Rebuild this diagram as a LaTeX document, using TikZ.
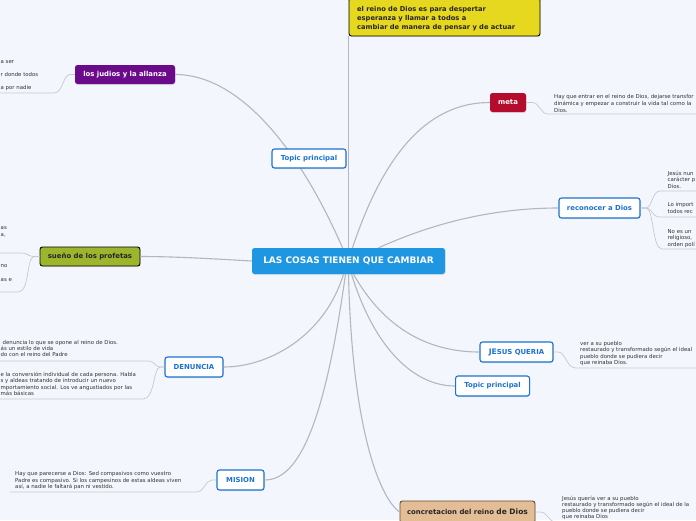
\documentclass[tikz,border=0pt]{standalone}
\usepackage{fontspec}
\setmainfont{DejaVu Sans}
\usetikzlibrary{shadows}
\definecolor{bg}{HTML}{F3F6FC}
\definecolor{cblue}{HTML}{1E96E2}
\definecolor{tblue}{HTML}{1C72D2}
\definecolor{lgray}{HTML}{B3B7BF}
\definecolor{sgray}{HTML}{C6C9D0}
\definecolor{txt}{HTML}{333333}
\definecolor{purp}{HTML}{6C0A8C}
\definecolor{crim}{HTML}{B50B2C}
\definecolor{olive}{HTML}{9CB52C}
\definecolor{yel}{HTML}{E6D81F}
\definecolor{tan}{HTML}{E3BD96}
\definecolor{brn}{HTML}{6B4A2E}
\newcommand\smalltxt{\fontsize{5.4}{6.6}\selectfont}
\newcommand\topicfont{\fontsize{6.9}{8}\selectfont\bfseries}
\tikzset{
  topic/.style={rounded corners=2.5pt, minimum height=19pt, inner sep=0pt, font=\topicfont,
    drop shadow={opacity=0.18, shadow xshift=0.6pt, shadow yshift=-1pt}},
  bluebox/.style={topic, draw=tblue, line width=1.1pt, fill=white, text=tblue},
  conn/.style={draw=lgray, line width=1.1pt},
  sub/.style={draw=sgray, line width=0.7pt},
  lbl/.style={font=\smalltxt, inner sep=0pt, text=txt, anchor=base west}
}
\begin{document}
\begin{tikzpicture}[x=1pt,y=-1pt]
\useasboundingbox (0,0) rectangle (696,520);
\fill[bg] (0,0) rectangle (696,520);
\clip (0,0) rectangle (696,520);

% ---- nodes ----
\node[topic, fill=cblue, text=white, minimum width=193pt, minimum height=26pt,
  font=\fontsize{9}{10}\selectfont\bfseries] (c) at (348.5,261) {LAS COSAS TIENEN QUE CAMBIAR};
\node[topic, fill=yel, draw=black, line width=0.9pt, minimum width=191pt, minimum height=38pt] (ye) at (444.5,17) {};
\node[inner sep=0pt, anchor=west, align=left, text=black!85,
  font=\fontsize{6.7}{9}\selectfont\bfseries] (yt) at (357,18.5)
  {el reino de Dios es para despertar\\esperanza y llamar a todos a\\cambiar de manera de pensar y de actuar};
\node[topic, fill=purp, text=white, minimum width=100pt] (jud) at (125,74.5) {los judios y la allanza};
\node[topic, fill=crim, text=white, minimum width=36pt] (meta) at (508,102.5) {meta};
\node[bluebox, minimum width=81pt, minimum height=20pt] (rec) at (599.5,208) {reconocer a Dios};
\node[topic, fill=olive, draw=black, line width=0.9pt, text=black!85, minimum width=100pt] (sue) at (90,256.5) {sueño de los profetas};
\node[bluebox, minimum width=58pt, minimum height=20pt] (den) at (194,367) {DENUNCIA};
\node[bluebox, minimum width=73pt, minimum height=20pt] (jq) at (516.5,352) {{\fontsize{7.6}{8}\selectfont JE}SUS QUERIA};
\node[bluebox, minimum width=47pt, minimum height=20pt] (mis) at (240.5,480) {MISION};
\node[topic, fill=tan, draw=brn, line width=0.9pt, text=black!85, minimum width=135pt, minimum height=22pt] (con) at (467.5,512)
  {concretacion del reino {\fontsize{7.5}{8}\selectfont de Dios}};

% ---- main connectors ----
\draw[conn] (c.north) -- (c.north |- ye.south);
\draw[conn] ([xshift=-6pt]c.north) .. controls (300,150) and (240,74.5) .. (jud.east);
\draw[conn] ([xshift=4pt]c.north) .. controls (385,150) and (430,102.5) .. (meta.west);
\draw[conn] ([xshift=30pt]c.north) .. controls (440,220) and (500,208) .. (rec.west);
\draw[conn] (c.west) .. controls (200,258) and (170,256.5) .. (sue.east);
\draw[conn] ([xshift=-5pt]c.south) .. controls (325,335) and (270,367) .. (den.east);
\draw[conn] ([xshift=-3pt]c.south) .. controls (325,420) and (300,480) .. (mis.east);
\draw[conn] ([xshift=5pt]c.south) .. controls (385,330) and (430,352) .. (jq.west);
\draw[conn] ([xshift=3pt]c.south) .. controls (375,350) and (415,386) .. (455,386) coordinate (tp2w);
\draw[conn] (c.south) .. controls (352,430) and (380,498) .. (con.west);

% Topic principal nodes (drawn over connector)
\node[bluebox, minimum width=74pt] (tp1) at (309,158.5) {Topic principal};
\node[bluebox, minimum width=74pt, minimum height=20pt, anchor=west] (tp2) at (tp2w) {Topic principal};

% ---- sub connectors ----
\draw[sub] (jud.west) -- (70,74.5) .. controls (63,74.5) and (63,93) .. (54,93) -- (-1,93);
\draw[sub] (meta.east) -- (532,102.5) .. controls (540,102.5) and (540,114) .. (548,114) -- (697,114);
\draw[sub] (rec.east) -- (646,208) .. controls (652,208) and (652,191) .. (660,191) -- (697,191);
\draw[sub] (rec.east) -- (646,208) .. controls (652,208) and (652,217) .. (660,217) -- (697,217);
\draw[sub] (rec.east) -- (646,208) .. controls (654,208) and (652,249) .. (662,249) -- (697,249);
\draw[sub] (sue.west) -- (34,256.5) .. controls (28,256.5) and (28,253) .. (22,253) -- (-1,253);
\draw[sub] (sue.west) -- (34,256.5) .. controls (26,258) and (30,292) .. (18,292) -- (-1,292);
\draw[sub] (den.west) -- (160,367) .. controls (155,367) and (155,361) .. (148,361) -- (-1,361);
\draw[sub] (den.west) -- (160,367) .. controls (153,368) and (155,399) .. (143,399) -- (-1,399);
\draw[sub] (jq.east) -- (558,352) .. controls (566,352) and (566,368) .. (576,368) -- (697,368);
\draw[sub] (mis.west) -- (212,480) .. controls (205,480) and (205,492) .. (196,492) -- (10,492);
\draw[sub] (con.east) -- (540,512) .. controls (548,512) and (548,522) .. (556,522);

% ---- texts ----
\node[lbl] (ja) at (0.5,63) {a ser};
\node[lbl] (jb) at (0.5,76) {r donde todos};
\node[lbl] (jc) at (0.5,89) {a por nadie};

\node[lbl] (ma) at (554,98) {Hay que entrar en el reino de Dios, dejarse transfor};
\node[lbl] (mb) at (554,105) {dinámica y empezar a construir la vida tal como la};
\node[lbl] (mc) at (554,112) {Dios.};

\node[lbl] (ra) at (667.5,175) {Jesús nun};
\node[lbl] (rb) at (667.5,181.5) {carácter p};
\node[lbl] (rc) at (667.5,188) {Dios.};
\node[lbl] (rd) at (667.5,206) {Lo import};
\node[lbl] (re) at (667.5,213.5) {todos rec};
\node[lbl] (rf) at (667.5,233) {No es un};
\node[lbl] (rg) at (667.5,239.5) {religioso,};
\node[lbl] (rh) at (667.5,246) {orden polí};

\node[lbl] (sa) at (0.5,229) {as};
\node[lbl] (sb) at (0.5,236) {a,};
\node[lbl] (sc) at (0.5,267) {no};
\node[lbl] (sd) at (0.5,281) {as e};

\node[lbl] (da) at (2.5,344) {denuncia lo que se opone al reino de Dios.};
\node[lbl] (db) at (0.5,350) {ás un estilo de vida};
\node[lbl] (dc) at (0.5,356.5) {do con el reino del Padre};
\node[lbl] (dd) at (0.5,376) {e la conversión individual de cada persona. Habla};
\node[lbl] (de) at (0.5,382.5) {s y aldeas tratando de introducir un nuevo};
\node[lbl] (df) at (0.5,389) {mportamiento social. Los ve angustiados por las};
\node[lbl] (dg) at (0.5,395.5) {más básicas};

\node[lbl] (qa) at (580,345) {ver a su pueblo};
\node[lbl] (qb) at (580,351.5) {restaurado y transformado según el ideal};
\node[lbl] (qc) at (580,358) {pueblo donde se pudiera decir};
\node[lbl] (qd) at (580,364.5) {que reinaba Dios.};

\node[lbl] (ia) at (15,475.5) {Hay que parecerse a Dios: Sed compasivos como vuestro};
\node[lbl] (ib) at (15,482) {Padre es compasivo. Si los campesinos de estas aldeas viven};
\node[lbl] (ic) at (15,488.5) {así, a nadie le faltará pan ni vestido.};

\node[lbl] (ka) at (562,500.5) {Jesús quería ver a su pueblo};
\node[lbl] (kb) at (562,506.5) {restaurado y transformado según el ideal de la};
\node[lbl] (kc) at (562,512.5) {pueblo donde se pudiera decir};
\node[lbl] (kd) at (562,518.3) {que reinaba Dios};
\end{tikzpicture}
\end{document}
